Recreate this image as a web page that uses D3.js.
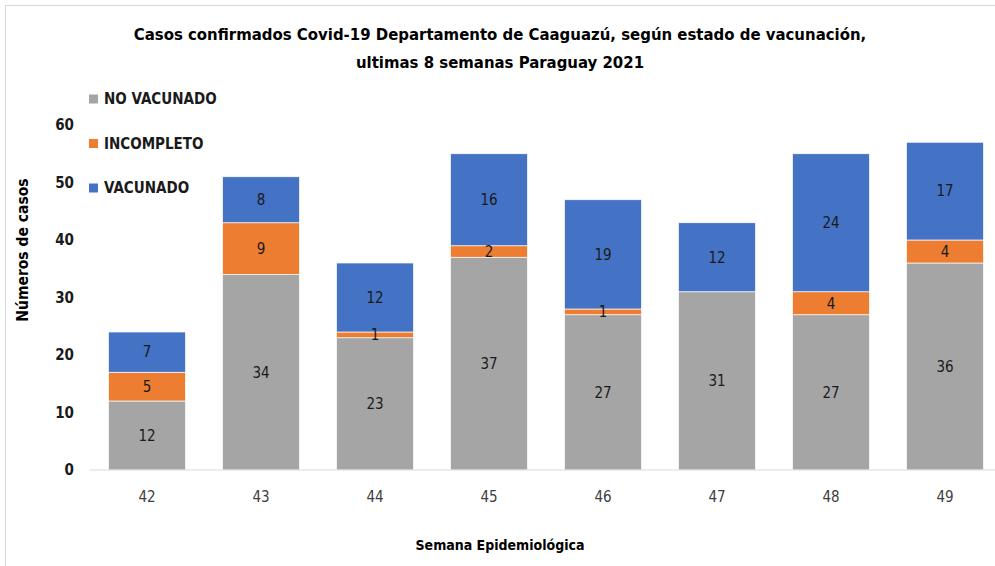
<!DOCTYPE html>
<html>
<head>
<meta charset="utf-8">
<script src="https://cdn.jsdelivr.net/npm/d3@7.9.0/dist/d3.min.js"></script>
<style>
  body { margin: 0; background: #fff; }
  svg { display: block; font-family: "Liberation Sans Narrow", "DejaVu Sans Condensed", "Open Sans", sans-serif; }
</style>
</head>
<body>
<svg id="chart" width="995" height="566"></svg>
<script>
// data
const weeks = ['42', '43', '44', '45', '46', '47', '48', '49'];
const noVacunado = [12, 34, 23, 37, 27, 31, 27, 36];
const incompleto = [5, 9, 1, 2, 1, 0, 4, 4];
const vacunado = [7, 8, 12, 16, 19, 12, 24, 17];
const seriesNames = ['NO VACUNADO', 'INCOMPLETO', 'VACUNADO'];
const yTicks = [0, 10, 20, 30, 40, 50, 60];

const colors = ['#a5a5a5', '#ed7d31', '#4472c4'];

const svg = d3.select('#chart');

// outer frame (cut at right / bottom like the reference)
svg.append('rect')
  .attr('x', 5.5).attr('y', 5.5)
  .attr('width', 1100).attr('height', 700)
  .attr('fill', 'none').attr('stroke', '#d9d9d9');

const left = 90, yBottom = 470, yTop = 125;

const x = d3.scaleBand().domain(weeks).range([left, left + 114 * 8]).paddingInner(0.325).paddingOuter(0.1625);
const y = d3.scaleLinear().domain([0, 60]).range([yBottom, yTop]);

// stacked data
const rows = weeks.map((w, i) => ({ week: w, s0: noVacunado[i], s1: incompleto[i], s2: vacunado[i] }));
const layers = d3.stack().keys(['s0', 's1', 's2'])(rows);

// bars
const g = svg.append('g');
layers.forEach((layer, li) => {
  g.selectAll(null)
    .data(layer)
    .join('rect')
    .attr('x', d => x(d.data.week))
    .attr('width', x.bandwidth())
    .attr('y', d => y(d[1]))
    .attr('height', d => y(d[0]) - y(d[1]))
    .attr('fill', colors[li])
    .attr('stroke', '#fff')
    .attr('stroke-width', 0.7);
});

// value labels (zeros are not shown)
layers.forEach((layer) => {
  g.selectAll(null)
    .data(layer.filter(d => d[1] - d[0] > 0))
    .join('text')
    .attr('x', d => x(d.data.week) + x.bandwidth() / 2)
    .attr('y', d => y((d[0] + d[1]) / 2))
    .attr('dy', '0.35em')
    .attr('text-anchor', 'middle')
    .attr('font-size', 15)
    .attr('fill', '#1a1a1a')
    .text(d => d[1] - d[0]);
});

// baseline
svg.append('line')
  .attr('x1', left).attr('x2', 995)
  .attr('y1', y(0)).attr('y2', y(0))
  .attr('stroke', '#d9d9d9').attr('stroke-width', 1);

// y tick labels (bold)
svg.append('g').selectAll('text')
  .data(yTicks)
  .join('text')
  .attr('x', 74)
  .attr('y', d => y(d))
  .attr('dy', '0.35em')
  .attr('text-anchor', 'end')
  .attr('font-size', 15)
  .attr('font-weight', 'bold')
  .attr('fill', '#1a1a1a')
  .text(d => d);

// x tick labels
svg.append('g').selectAll('text')
  .data(weeks)
  .join('text')
  .attr('x', d => x(d) + x.bandwidth() / 2)
  .attr('y', 502)
  .attr('text-anchor', 'middle')
  .attr('font-size', 15)
  .attr('fill', '#404040')
  .text(d => d);

// axis titles
svg.append('text')
  .attr('x', 500).attr('y', 550)
  .attr('text-anchor', 'middle')
  .attr('font-size', 14).attr('font-weight', 'bold')
  .attr('fill', '#000')
  .text('Semana Epidemiológica');

svg.append('text')
  .attr('transform', 'translate(28,250) rotate(-90)')
  .attr('text-anchor', 'middle')
  .attr('font-size', 15.5).attr('font-weight', 'bold')
  .attr('fill', '#000')
  .text('Números de casos');

// title
const title = svg.append('g').attr('font-weight', 'bold').attr('font-size', 16.6).attr('fill', '#000').attr('text-anchor', 'middle');
title.append('text').attr('x', 500).attr('y', 40)
  .text('Casos confirmados Covid-19 Departamento de Caaguazú, según estado de vacunación,');
title.append('text').attr('x', 500).attr('y', 68)
  .text('ultimas 8 semanas Paraguay 2021');

// legend
const legend = svg.append('g');
seriesNames.forEach((name, i) => {
  const ly = 99 + i * 44.5;
  legend.append('rect')
    .attr('x', 89).attr('y', ly - 4.5)
    .attr('width', 9).attr('height', 9)
    .attr('fill', colors[i]);
  legend.append('text')
    .attr('x', 104).attr('y', ly)
    .attr('dy', '0.35em')
    .attr('font-size', 15).attr('font-weight', 'bold')
    .attr('fill', '#1a1a1a')
    .text(name);
});
</script>
</body>
</html>
